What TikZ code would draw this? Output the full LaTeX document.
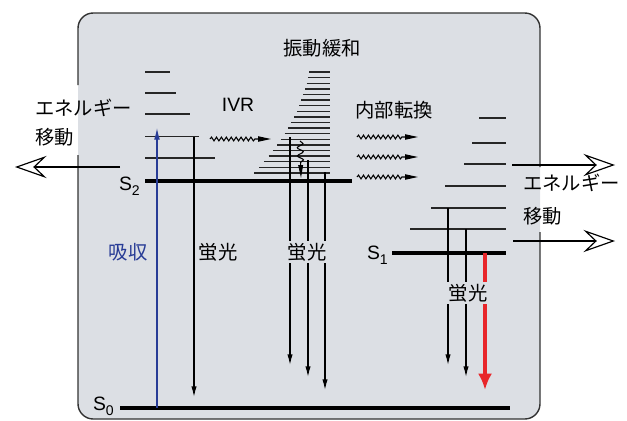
\documentclass[tikz,border=0pt]{standalone}
\usepackage{fontspec}
\setmainfont{Liberation Sans}
\newfontfamily\jp{Noto Sans CJK JP}
\usetikzlibrary{arrows.meta, positioning, decorations.pathmorphing}
\definecolor{boxgray}{RGB}{220,223,228}
\definecolor{absblue}{RGB}{40,60,150}
\definecolor{fluored}{RGB}{232,38,42}
\newcommand{\lvl}[1]{S\raisebox{-0.5ex}{\fontsize{12}{12}\selectfont #1}}

\begin{document}
\begin{tikzpicture}[x=0.03cm, y=-0.03cm,
		border/.style={draw=black!80, line width=1.2pt},
		vib/.style={line width=1.2pt, draw=black!85},
		slevel/.style={line width=2.6pt},
		fluo/.style={-{Latex[length=9pt, width=4.5pt]}, line width=1pt},
		wave/.style={-{Stealth[length=11pt, width=4.5pt, inset=0pt]}, line width=0.9pt, decorate,
			decoration={snake, amplitude=1.6pt, segment length=4.2pt, post length=12pt}},
		transfer/.style={-{Stealth[open, length=27pt, width=19pt, inset=10pt, line width=1pt]}, line width=2.2pt},
		jtext/.style={font=\fontsize{16.5}{18}\selectfont\jp, inner sep=0pt},
		ltext/.style={font=\fontsize{16.5}{18}\selectfont, inner sep=0pt}]
		
		\useasboundingbox (0,0) rectangle (627,420);
		
		% Caixa
		\fill[boxgray, rounded corners=13pt] (78,13) rectangle (540,419);
		\draw[border, rounded corners=13pt] (78,155) -- (78,419) -- (540,419) -- (540,232);
		\draw[border, rounded corners=13pt] (540,167) -- (540,13) -- (78,13) -- (78,85);
		
		% S0
		\draw[slevel] (120,408) -- (510,408);
		
		% S2
		\draw[slevel] (145,181) -- (352,181);
		\foreach \yy/\xr in {72/170, 93/176, 114/190, 136.7/199, 158/215}
			\draw[vib] (145,\yy) -- (\xr,\yy);
		
		% Relaxacao vibracional
		\foreach \i in {0,...,18}{
			\pgfmathsetmacro{\yy}{72+5.61*\i}
			\pgfmathsetmacro{\xl}{330-21-55*(0.3*\i/18+0.7*(\i/18)*(\i/18))}
			\draw[vib] (\xl,\yy) -- (330,\yy);
		}
		
		% S1
		\draw[slevel] (392,253) -- (506,253);
		\foreach \yy/\xl in {118/479, 143/472, 164/464, 186/445, 208/431, 229/410}
			\draw[vib] (\xl,\yy) -- (506,\yy);
		
		% Pontos
		\coordinate (abs0) at (157,408);
		\coordinate (abs1) at (157,128);
		\coordinate (fa0) at (194,136.7);
		\coordinate (fa1) at (194,397);
		\coordinate (fb0) at (290,137);
		\coordinate (fb1) at (290,365);
		\coordinate (fc0) at (308,160);
		\coordinate (fc1) at (308,377);
		\coordinate (fd0) at (325,172);
		\coordinate (fd1) at (325,390);
		\coordinate (fe0) at (448,208);
		\coordinate (fe1) at (448,365);
		\coordinate (ff0) at (466,229);
		\coordinate (ff1) at (466,377);
		\coordinate (fr0) at (485,253);
		\coordinate (fr1) at (485,390);
		\coordinate (ivr0) at (210,139);
		\coordinate (ivr1) at (271,139);
		\coordinate (ica0) at (357,137);
		\coordinate (ica1) at (418,137);
		\coordinate (icb0) at (357,157);
		\coordinate (icb1) at (418,157);
		\coordinate (icc0) at (357,177);
		\coordinate (icc1) at (418,177);
		\coordinate (vr0) at (300,141);
		\coordinate (vr1) at (301,178);
		\coordinate (etl0) at (120,167);
		\coordinate (etl1) at (15,167);
		\coordinate (etr0) at (512,165);
		\coordinate (etr1) at (615,165);
		\coordinate (ets0) at (513,241);
		\coordinate (ets1) at (615,241);
		
		% Setas
		\draw[->, absblue, line width=1pt, >={Latex[length=10pt, width=5pt]}] (abs0) -- (abs1);
		\draw[fluo] (fa0) -- (fa1);
		\draw[fluo] (fb0) -- (fb1);
		\draw[fluo] (fc0) -- (fc1);
		\draw[fluo] (fd0) -- (fd1);
		\draw[fluo] (fe0) -- (fe1);
		\draw[fluo] (ff0) -- (ff1);
		\draw[-{Latex[length=14pt, width=12pt]}, fluored, line width=3.6pt] (fr0) -- (fr1);
		
		\draw[wave] (ivr0) -- (ivr1);
		\draw[wave] (ica0) -- (ica1);
		\draw[wave] (icb0) -- (icb1);
		\draw[wave] (icc0) -- (icc1);
		\draw[-{Stealth[length=11pt, width=4pt, inset=0pt]}, line width=0.9pt, decorate,
			decoration={snake, amplitude=2.5pt, segment length=7pt, post length=10pt}] (vr0) -- (vr1);
		
		\draw[transfer] (etl0) -- (etl1);
		\draw[transfer] (etr0) -- (etr1);
		\draw[transfer] (ets0) -- (ets1);
		
		% Textos
		\node[jtext] (tvr) at (322,48) {振動緩和};
		\node[ltext] (tivr) at (238,105) {IVR};
		\node[jtext] (tic) at (394,110) {内部転換};
		\node[jtext, anchor=west] (tetl) at (35,108) {エネルギー};
		\node[jtext, anchor=west] (tmvl) at (35,137) {移動};
		\node[jtext, anchor=west] (tetr) at (523,183) {エネルギー};
		\node[jtext, anchor=west] (tmvr) at (523,216) {移動};
		\node[jtext, absblue] (tabs) at (128,252) {吸収};
		\node[jtext] (tfl1) at (218,252) {蛍光};
		\node[jtext, fill=boxgray, inner sep=2pt] (tfl2) at (307,252) {蛍光};
		\node[jtext, fill=boxgray, inner sep=2pt] (tfl3) at (468,293) {蛍光};
		\node[ltext, anchor=east] (ls2) at (140,186) {\lvl{2}};
		\node[ltext, anchor=east] (ls1) at (388,255) {\lvl{1}};
		\node[ltext, anchor=east] (ls0) at (114,406) {\lvl{0}};
		
	\end{tikzpicture}
\end{document}
